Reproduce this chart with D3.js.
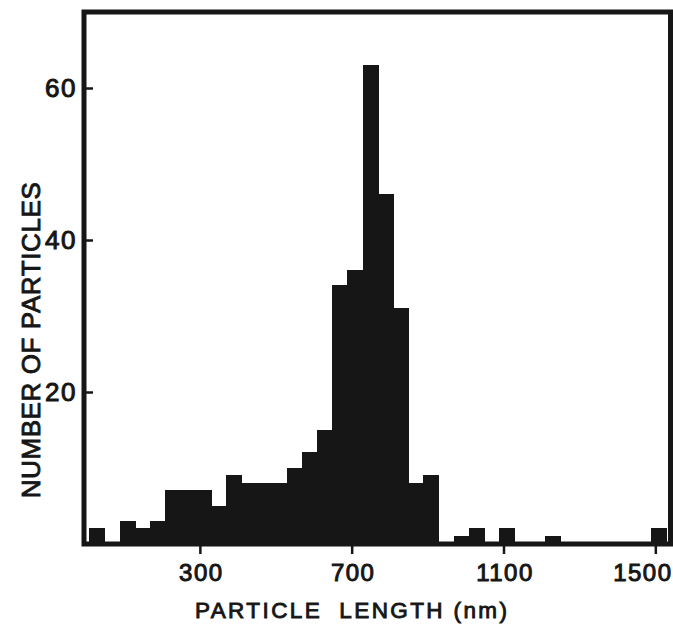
<!DOCTYPE html>
<html>
<head>
<meta charset="utf-8">
<script src="https://cdn.jsdelivr.net/npm/d3@7/dist/d3.min.js"></script>
<style>
  html, body { margin: 0; padding: 0; background: #fff; }
  svg { display: block; }
  text { font-family: "Liberation Sans", Arial, Helvetica, sans-serif; fill: #161616; }
</style>
</head>
<body>
<svg id="chart" width="673" height="626"></svg>
<script>
// ---- data ----
const binStart = [10, 50, 90, 130, 170, 210, 250, 290, 330, 370, 410, 450, 490, 530, 570, 610,
                  650, 690, 730, 770, 810, 850, 890, 930, 970, 1010, 1050, 1090, 1130, 1170,
                  1210, 1250, 1290, 1330, 1370, 1410, 1450, 1490];
const binWidth = 40;
const counts = [2, 0, 3, 2, 3, 7, 7, 7, 5, 9, 8, 8, 8, 10, 12, 15,
                34, 36, 63, 46, 31, 8, 9, 0, 1, 2, 0, 2, 0, 0,
                1, 0, 0, 0, 0, 0, 0, 2];
const xTicks = [300, 700, 1100, 1500];
const yTicks = [20, 40, 60];
const xTitle = "PARTICLE\u00a0\u00a0LENGTH (nm)";
const yTitle = "NUMBER OF PARTICLES";

// ---- layout ----
const svg = d3.select("#chart");
const x = d3.scaleLinear().domain([0, 1540]).range([86, 670.5]);
const y = d3.scaleLinear().domain([0, 70]).range([544, 12]);
const ink = "#161616";

// bars
svg.append("g").attr("shape-rendering", "crispEdges").selectAll("rect")
  .data(binStart.map((s, i) => ({ s, c: counts[i] })).filter(d => d.c > 0))
  .join("rect")
  .attr("x", d => x(d.s))
  .attr("width", d => x(d.s + binWidth) - x(d.s))
  .attr("y", d => y(d.c))
  .attr("height", d => y(0) - y(d.c))
  .attr("fill", ink).attr("stroke", ink).attr("stroke-width", 1);

// frame
svg.append("rect")
  .attr("x", x(0) - 2).attr("y", y(70))
  .attr("width", x(1540) - x(0) + 2).attr("height", y(0) - y(70))
  .attr("fill", "none").attr("stroke", ink).attr("stroke-width", 5);

// x axis ticks (outward)
const xAxis = d3.axisBottom(x).tickValues(xTicks).tickSize(8).tickPadding(10).tickFormat(d3.format("d"));
const gx = svg.append("g").attr("transform", `translate(0,${y(0) + 2})`).call(xAxis);
gx.select(".domain").remove();
gx.selectAll(".tick line").attr("stroke", ink).attr("stroke-width", 2.5);
gx.selectAll(".tick text")
  .attr("font-size", 24).attr("letter-spacing", 1.5)
  .attr("dx", (d, i) => i === xTicks.length - 1 ? -13 : 1)
  .attr("fill", ink).attr("stroke", ink).attr("stroke-width", 1)
  .style("font-family", "'Liberation Sans', Arial, sans-serif");

// y axis ticks (inward)
const yAxis = d3.axisLeft(y).tickValues(yTicks).tickSize(-7).tickPadding(9).tickFormat(d3.format("d"));
const gy = svg.append("g").attr("transform", `translate(${x(0)},0)`).call(yAxis);
gy.select(".domain").remove();
gy.selectAll(".tick line").attr("stroke", ink).attr("stroke-width", 2.5);
gy.selectAll(".tick text")
  .attr("font-size", 26).attr("letter-spacing", 1.5)
  .attr("fill", ink).attr("stroke", ink).attr("stroke-width", 1)
  .style("font-family", "'Liberation Sans', Arial, sans-serif");

// x title
svg.append("text")
  .attr("x", 195).attr("y", 618)
  .attr("textLength", 312).attr("lengthAdjust", "spacing")
  .attr("font-size", 22.5).attr("stroke", ink).attr("stroke-width", 0.9)
  .text(xTitle);

// y title
svg.append("text")
  .attr("transform", "translate(40,340) rotate(-90)")
  .attr("text-anchor", "middle")
  .attr("font-size", 26).attr("letter-spacing", 0.6)
  .attr("stroke", ink).attr("stroke-width", 0.9)
  .text(yTitle);
</script>
</body>
</html>
